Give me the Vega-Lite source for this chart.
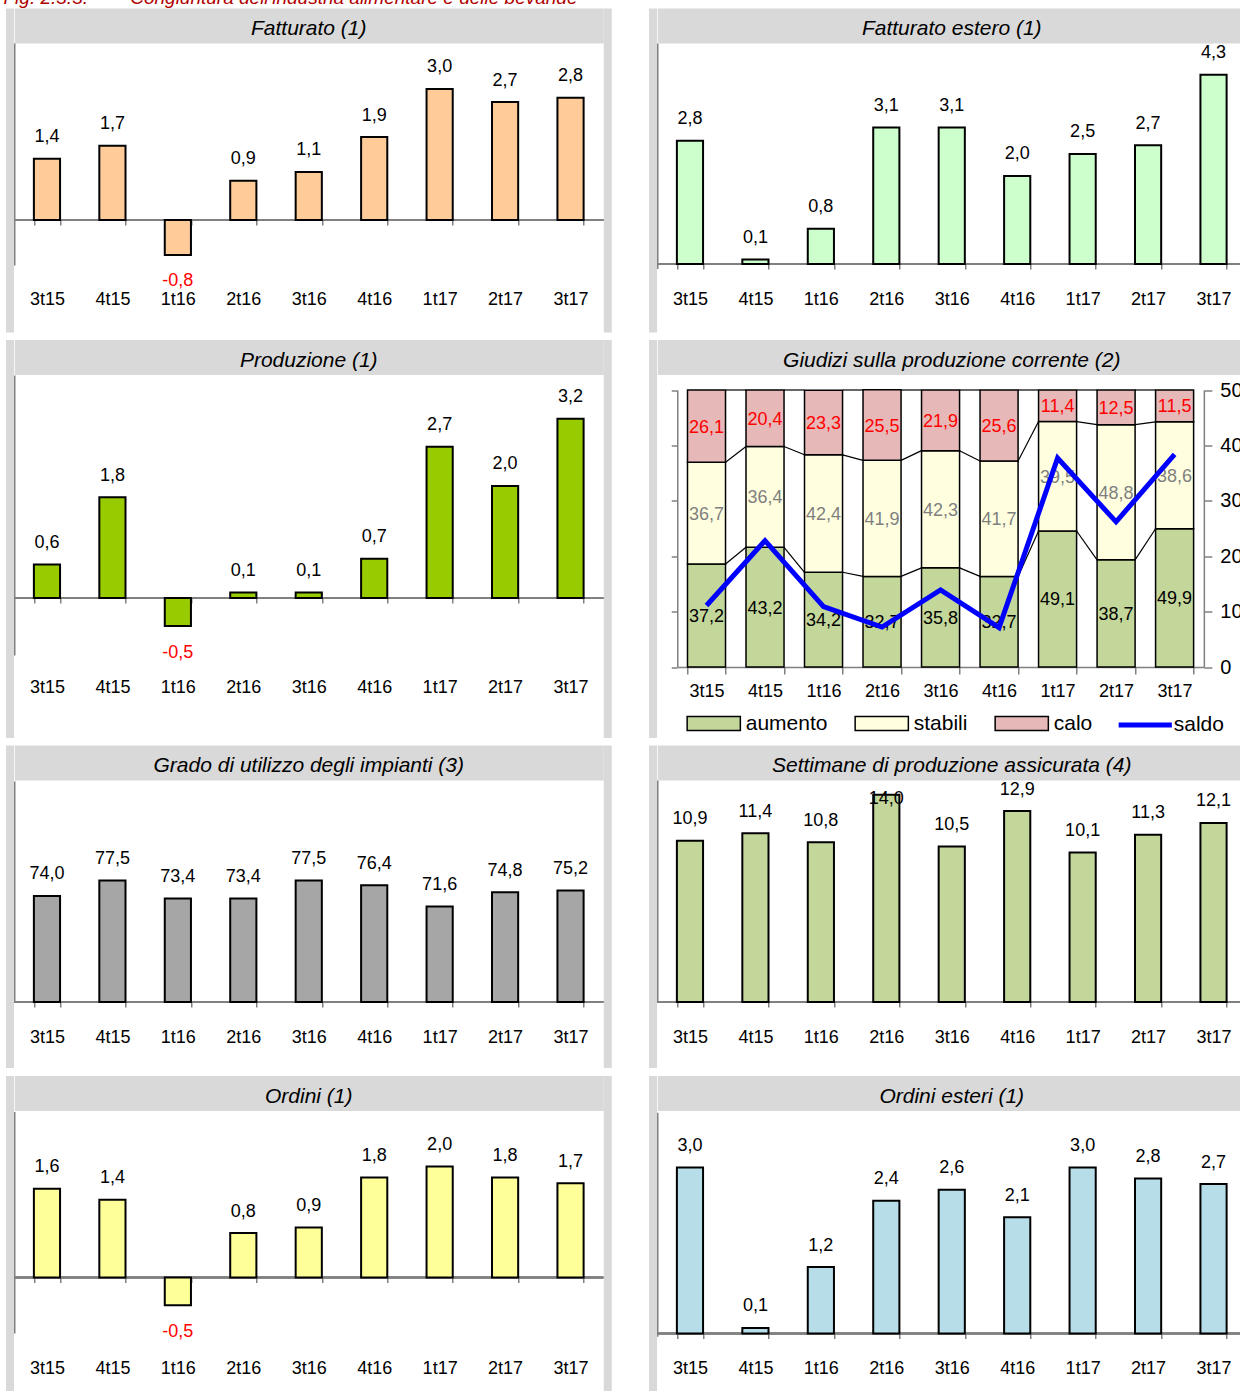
{
"$schema": "https://vega.github.io/schema/vega-lite/v6.json",
"background": "white",
"padding": {"left": 3.25, "top": -11, "right": 0, "bottom": 0},
"title": {"text": "Fig. 2.3.3.\u00a0\u00a0\u00a0\u00a0\u00a0\u00a0\u00a0\u00a0Congiuntura dell'industria alimentare e delle bevande", "anchor": "start", "frame": "bounds", "offset": 0, "dx": -6, "fontSize": 19, "color": "#b00000"},
"spacing": 7.5,
"resolve": {"legend": {"fill": "independent", "stroke": "independent"}},
"vconcat": [
{"spacing": 45, "hconcat": [
{"width": 589, "height": 324,
 "title": {"text": "Fatturato (1)"},
 "data": {"values": [{"q":"3t15","v":1.4},{"q":"4t15","v":1.7},{"q":"1t16","v":-0.8},{"q":"2t16","v":0.9},{"q":"3t16","v":1.1},{"q":"4t16","v":1.9},{"q":"1t17","v":3.0},{"q":"2t17","v":2.7},{"q":"3t17","v":2.8}]},
 "resolve": {"scale": {"y": "independent"}, "axis": {"x": "independent", "y": "independent"}},
 "layer": [
  {"mark": {"type": "rule", "color": "#808080", "strokeWidth": 1.5},
   "encoding": {"y": {"datum": 0, "type": "quantitative", "scale": {"domain": [-1.03, 4.05], "range": [257, 35.1], "nice": false, "zero": false}, "axis": {"orient": "left", "domainColor": "#808080", "domainWidth": 1.5, "ticks": false, "labels": false, "title": null}}}},
  {"mark": {"type": "bar", "fill": "#ffcc99", "stroke": "black", "strokeWidth": 2},
   "encoding": {
    "x": {"field": "q", "type": "nominal", "scale": {"type": "band", "domain": ["3t15","4t15","1t16","2t16","3t16","4t16","1t17","2t17","3t17"], "paddingInner": 0.6, "paddingOuter": 0.3}, "axis": {"orient": "bottom", "offset": -112, "domain": false, "tickBand": "extent", "tickSize": 5, "tickColor": "#808080", "tickWidth": 1.5, "labelPadding": 79.5, "labelBaseline": "alphabetic", "labelAngle": 0, "title": null}},
    "y": {"field": "v", "type": "quantitative", "scale": {"domain": [-2.5647, 4.8546], "nice": false, "zero": false}, "axis": {"orient": "left", "offset": 4.75, "domainColor": "#d9d9d9", "domainWidth": 8, "ticks": false, "labels": false, "title": null}},
    "y2": {"datum": 0}}},
  {"transform": [{"filter": "datum.v >= 0"}],
   "mark": {"type": "text", "baseline": "alphabetic", "dy": -16.5},
   "encoding": {
    "x": {"field": "q", "type": "nominal", "axis": {"orient": "top", "offset": -17.5, "domainColor": "#d9d9d9", "domainWidth": 35, "ticks": false, "labels": false, "title": null}},
    "y": {"field": "v", "type": "quantitative", "scale": {"domain": [-2.5647, 4.8546], "nice": false, "zero": false}, "axis": {"orient": "right", "offset": 4, "domainColor": "#d9d9d9", "domainWidth": 8, "ticks": false, "labels": false, "title": null}},
    "text": {"field": "v", "type": "quantitative", "format": ".1f"}}},
  {"transform": [{"filter": "datum.v < 0"}],
   "mark": {"type": "text", "baseline": "alphabetic", "dy": 31.5, "color": "#ff0000"},
   "encoding": {
    "x": {"field": "q", "type": "nominal", "axis": null},
    "y": {"field": "v", "type": "quantitative", "scale": {"domain": [-2.5647, 4.8546], "nice": false, "zero": false}, "axis": null},
    "text": {"field": "v", "type": "quantitative", "format": ".1f"}}}
 ]},
{"width": 589, "height": 324,
 "title": {"text": "Fatturato estero (1)"},
 "data": {"values": [{"q":"3t15","v":2.8},{"q":"4t15","v":0.1},{"q":"1t16","v":0.8},{"q":"2t16","v":3.1},{"q":"3t16","v":3.1},{"q":"4t16","v":2.0},{"q":"1t17","v":2.5},{"q":"2t17","v":2.7},{"q":"3t17","v":4.3}]},
 "resolve": {"scale": {"y": "independent"}, "axis": {"x": "independent", "y": "independent"}},
 "layer": [
  {"mark": {"type": "rule", "color": "#808080", "strokeWidth": 1.5},
   "encoding": {"y": {"datum": 0, "type": "quantitative", "scale": {"domain": [-0.1, 5.02], "range": [260.4, 35.1], "nice": false, "zero": false}, "axis": {"orient": "left", "domainColor": "#808080", "domainWidth": 1.5, "ticks": false, "labels": false, "title": null}}}},
  {"mark": {"type": "bar", "fill": "#ccffcc", "stroke": "black", "strokeWidth": 2},
   "encoding": {
    "x": {"field": "q", "type": "nominal", "scale": {"type": "band", "domain": ["3t15","4t15","1t16","2t16","3t16","4t16","1t17","2t17","3t17"], "paddingInner": 0.6, "paddingOuter": 0.3}, "axis": {"orient": "bottom", "offset": -68, "domain": false, "tickBand": "extent", "tickSize": 5, "tickColor": "#808080", "tickWidth": 1.5, "labelPadding": 35.5, "labelBaseline": "alphabetic", "labelAngle": 0, "title": null}},
    "y": {"field": "v", "type": "quantitative", "scale": {"domain": [-1.5455, 5.8182], "nice": false, "zero": false}, "axis": {"orient": "left", "offset": 4.75, "domainColor": "#d9d9d9", "domainWidth": 8, "ticks": false, "labels": false, "title": null}},
    "y2": {"datum": 0}}},
  {"mark": {"type": "text", "baseline": "alphabetic", "dy": -16.5},
   "encoding": {
    "x": {"field": "q", "type": "nominal", "axis": {"orient": "top", "offset": -17.5, "domainColor": "#d9d9d9", "domainWidth": 35, "ticks": false, "labels": false, "title": null}},
    "y": {"field": "v", "type": "quantitative", "scale": {"domain": [-1.5455, 5.8182], "nice": false, "zero": false}, "axis": null},
    "text": {"field": "v", "type": "quantitative", "format": ".1f"}}}
 ]}
]},
{"spacing": 45, "resolve": {"legend": {"fill": "independent", "stroke": "independent"}}, "hconcat": [
{"width": 589, "height": 398,
 "title": {"text": "Produzione (1)"},
 "data": {"values": [{"q":"3t15","v":0.6},{"q":"4t15","v":1.8},{"q":"1t16","v":-0.5},{"q":"2t16","v":0.1},{"q":"3t16","v":0.1},{"q":"4t16","v":0.7},{"q":"1t17","v":2.7},{"q":"2t17","v":2.0},{"q":"3t17","v":3.2}]},
 "resolve": {"scale": {"y": "independent"}, "axis": {"x": "independent", "y": "independent"}},
 "layer": [
  {"mark": {"type": "rule", "color": "#808080", "strokeWidth": 1.5},
   "encoding": {"y": {"datum": 0, "type": "quantitative", "scale": {"domain": [-1.02, 3.98], "range": [315.6, 35.6], "nice": false, "zero": false}, "axis": {"orient": "left", "domainColor": "#808080", "domainWidth": 1.5, "ticks": false, "labels": false, "title": null}}}},
  {"mark": {"type": "bar", "fill": "#99cc00", "stroke": "black", "strokeWidth": 2},
   "encoding": {
    "x": {"field": "q", "type": "nominal", "scale": {"type": "band", "domain": ["3t15","4t15","1t16","2t16","3t16","4t16","1t17","2t17","3t17"], "paddingInner": 0.6, "paddingOuter": 0.3}, "axis": {"orient": "bottom", "offset": -139.5, "domain": false, "tickBand": "extent", "tickSize": 5, "tickColor": "#808080", "tickWidth": 1.5, "labelPadding": 89.5, "labelBaseline": "alphabetic", "labelAngle": 0, "title": null}},
    "y": {"field": "v", "type": "quantitative", "scale": {"domain": [-2.491, 4.616], "nice": false, "zero": false}, "axis": {"orient": "left", "offset": 4.75, "domainColor": "#d9d9d9", "domainWidth": 8, "ticks": false, "labels": false, "title": null}},
    "y2": {"datum": 0}}},
  {"transform": [{"filter": "datum.v >= 0"}],
   "mark": {"type": "text", "baseline": "alphabetic", "dy": -16.5},
   "encoding": {
    "x": {"field": "q", "type": "nominal", "axis": {"orient": "top", "offset": -17.5, "domainColor": "#d9d9d9", "domainWidth": 35, "ticks": false, "labels": false, "title": null}},
    "y": {"field": "v", "type": "quantitative", "scale": {"domain": [-2.491, 4.616], "nice": false, "zero": false}, "axis": {"orient": "right", "offset": 4, "domainColor": "#d9d9d9", "domainWidth": 8, "ticks": false, "labels": false, "title": null}},
    "text": {"field": "v", "type": "quantitative", "format": ".1f"}}},
  {"transform": [{"filter": "datum.v < 0"}],
   "mark": {"type": "text", "baseline": "alphabetic", "dy": 31.5, "color": "#ff0000"},
   "encoding": {
    "x": {"field": "q", "type": "nominal", "axis": null},
    "y": {"field": "v", "type": "quantitative", "scale": {"domain": [-2.491, 4.616], "nice": false, "zero": false}, "axis": null},
    "text": {"field": "v", "type": "quantitative", "format": ".1f"}}}
 ]},
{"width": 589, "height": 398,
 "title": {"text": "Giudizi sulla produzione corrente (2)"},
 "data": {"values": [
  {"q":"3t15","s":"aumento","k":1,"v":37.2},{"q":"3t15","s":"stabili","k":2,"v":36.7},{"q":"3t15","s":"calo","k":3,"v":26.1},
  {"q":"4t15","s":"aumento","k":1,"v":43.2},{"q":"4t15","s":"stabili","k":2,"v":36.4},{"q":"4t15","s":"calo","k":3,"v":20.4},
  {"q":"1t16","s":"aumento","k":1,"v":34.2},{"q":"1t16","s":"stabili","k":2,"v":42.4},{"q":"1t16","s":"calo","k":3,"v":23.3},
  {"q":"2t16","s":"aumento","k":1,"v":32.7},{"q":"2t16","s":"stabili","k":2,"v":41.9},{"q":"2t16","s":"calo","k":3,"v":25.5},
  {"q":"3t16","s":"aumento","k":1,"v":35.8},{"q":"3t16","s":"stabili","k":2,"v":42.3},{"q":"3t16","s":"calo","k":3,"v":21.9},
  {"q":"4t16","s":"aumento","k":1,"v":32.7},{"q":"4t16","s":"stabili","k":2,"v":41.7},{"q":"4t16","s":"calo","k":3,"v":25.6},
  {"q":"1t17","s":"aumento","k":1,"v":49.1},{"q":"1t17","s":"stabili","k":2,"v":39.5},{"q":"1t17","s":"calo","k":3,"v":11.4},
  {"q":"2t17","s":"aumento","k":1,"v":38.7},{"q":"2t17","s":"stabili","k":2,"v":48.8},{"q":"2t17","s":"calo","k":3,"v":12.5},
  {"q":"3t17","s":"aumento","k":1,"v":49.9},{"q":"3t17","s":"stabili","k":2,"v":38.6},{"q":"3t17","s":"calo","k":3,"v":11.5}]},
 "resolve": {"scale": {"x": "independent", "y": "independent"}, "axis": {"x": "independent", "y": "independent"}, "legend": {"fill": "independent", "stroke": "independent"}},
 "layer": [
  {"mark": {"type": "text", "text": ""},
   "encoding": {
    "x": {"datum": "f", "type": "nominal", "axis": {"orient": "top", "offset": -17.5, "domainColor": "#d9d9d9", "domainWidth": 35, "ticks": false, "labels": false, "title": null}},
    "y": {"datum": 0.5, "type": "quantitative", "scale": {"domain": [0, 1]}, "axis": {"orient": "left", "offset": 4.75, "domainColor": "#d9d9d9", "domainWidth": 8, "ticks": false, "labels": false, "title": null}}}},
  {"data": {"values": [
    {"q":"3t15","qn":"4t15","a":37.2,"b":43.2},{"q":"4t15","qn":"1t16","a":43.2,"b":34.2},{"q":"1t16","qn":"2t16","a":34.2,"b":32.7},{"q":"2t16","qn":"3t16","a":32.7,"b":35.8},
    {"q":"3t16","qn":"4t16","a":35.8,"b":32.7},{"q":"4t16","qn":"1t17","a":32.7,"b":49.1},{"q":"1t17","qn":"2t17","a":49.1,"b":38.7},{"q":"2t17","qn":"3t17","a":38.7,"b":49.9},
    {"q":"3t15","qn":"4t15","a":73.9,"b":79.6},{"q":"4t15","qn":"1t16","a":79.6,"b":76.6},{"q":"1t16","qn":"2t16","a":76.6,"b":74.6},{"q":"2t16","qn":"3t16","a":74.6,"b":78.1},
    {"q":"3t16","qn":"4t16","a":78.1,"b":74.4},{"q":"4t16","qn":"1t17","a":74.4,"b":88.6},{"q":"1t17","qn":"2t17","a":88.6,"b":87.5},{"q":"2t17","qn":"3t17","a":87.5,"b":88.5},
    {"q":"3t15","qn":"4t15","a":100,"b":100},{"q":"4t15","qn":"1t16","a":100,"b":100},{"q":"1t16","qn":"2t16","a":100,"b":100},{"q":"2t16","qn":"3t16","a":100,"b":100},
    {"q":"3t16","qn":"4t16","a":100,"b":100},{"q":"4t16","qn":"1t17","a":100,"b":100},{"q":"1t17","qn":"2t17","a":100,"b":100},{"q":"2t17","qn":"3t17","a":100,"b":100}]},
   "mark": {"type": "rule", "color": "black", "strokeWidth": 1.2},
   "encoding": {
    "x": {"field": "q", "type": "nominal", "bandPosition": 1, "scale": {"type": "band", "domain": ["3t15","4t15","1t16","2t16","3t16","4t16","1t17","2t17","3t17"], "range": [20, 546.6], "paddingInner": 0.35, "paddingOuter": 0.175}, "axis": null},
    "x2": {"field": "qn", "bandPosition": 0},
    "y": {"field": "a", "type": "quantitative", "scale": {"domain": [0, 100], "range": [327.5, 50.5], "nice": false, "zero": false}, "axis": null},
    "y2": {"field": "b"}}},
  {"mark": {"type": "bar", "stroke": "black", "strokeWidth": 1.5},
   "encoding": {
    "x": {"field": "q", "type": "nominal", "scale": {"type": "band", "domain": ["3t15","4t15","1t16","2t16","3t16","4t16","1t17","2t17","3t17"], "range": [20, 546.6], "paddingInner": 0.35, "paddingOuter": 0.175}, "axis": {"orient": "bottom", "offset": -70.5, "domainColor": "#808080", "domainWidth": 1.5, "tickBand": "extent", "tickSize": 7, "tickColor": "#808080", "tickWidth": 1.5, "labelPadding": 22.5, "labelBaseline": "alphabetic", "labelAngle": 0, "title": null}},
    "y": {"field": "v", "type": "quantitative", "stack": "zero", "scale": {"domain": [0, 100], "range": [327.5, 50.5], "nice": false, "zero": false}, "axis": {"orient": "left", "offset": -20, "values": [0, 20, 40, 60, 80, 100], "domainColor": "#808080", "domainWidth": 1.5, "tickSize": 6, "tickColor": "#808080", "tickWidth": 1.5, "labels": false, "title": null}},
    "fill": {"field": "s", "type": "nominal", "scale": {"domain": ["aumento", "stabili", "calo"], "range": ["#c4d79b", "#ffffe0", "#e6b8b7"]},
      "legend": {"orient": "none", "legendX": 41.5, "legendY": 369, "direction": "horizontal", "columns": 3, "title": null, "padding": 0, "symbolType": "M-1.9,-0.5H1.9V0.5H-1.9Z", "symbolSize": 784, "symbolStrokeColor": "black", "symbolStrokeWidth": 1.5, "symbolOpacity": 1, "labelOffset": 17, "columnPadding": 24, "labelFont": "Liberation Sans", "labelFontSize": 21, "labelColor": "black"}},
    "order": {"field": "k", "type": "quantitative"}}},
  {"mark": {"type": "text", "baseline": "alphabetic", "dy": 6.5},
   "encoding": {
    "x": {"field": "q", "type": "nominal", "scale": {"type": "band", "domain": ["3t15","4t15","1t16","2t16","3t16","4t16","1t17","2t17","3t17"], "range": [20, 546.6], "paddingInner": 0.35, "paddingOuter": 0.175}, "axis": null},
    "y": {"field": "v", "type": "quantitative", "stack": "zero", "bandPosition": 0.5, "scale": {"domain": [0, 100], "range": [327.5, 50.5], "nice": false, "zero": false}, "axis": null},
    "color": {"field": "s", "type": "nominal", "scale": {"domain": ["aumento", "stabili", "calo"], "range": ["#000000", "#7f7f7f", "#ff0000"]}, "legend": null},
    "order": {"field": "k", "type": "quantitative"},
    "text": {"field": "v", "type": "quantitative", "format": ".1f"}}},
  {"data": {"values": [{"q":"3t15","s":"saldo","v":11.1},{"q":"4t15","s":"saldo","v":22.8},{"q":"1t16","s":"saldo","v":10.9},{"q":"2t16","s":"saldo","v":7.2},{"q":"3t16","s":"saldo","v":13.9},{"q":"4t16","s":"saldo","v":7.1},{"q":"1t17","s":"saldo","v":37.7},{"q":"2t17","s":"saldo","v":26.2},{"q":"3t17","s":"saldo","v":38.4}]},
   "mark": {"type": "line", "strokeWidth": 5},
   "encoding": {
    "x": {"field": "q", "type": "nominal", "sort": null, "scale": {"type": "band", "domain": ["3t15","4t15","1t16","2t16","3t16","4t16","1t17","2t17","3t17"], "range": [20, 546.6], "paddingInner": 0.35, "paddingOuter": 0.175}, "axis": null},
    "y": {"field": "v", "type": "quantitative", "scale": {"domain": [0, 50], "range": [327.5, 50.5], "nice": false, "zero": false}, "axis": {"orient": "right", "offset": -42.4, "values": [0, 10, 20, 30, 40, 50], "domainColor": "#808080", "domainWidth": 1.5, "tickSize": 8, "tickColor": "#808080", "tickWidth": 1.5, "labelPadding": 8, "labelFont": "Liberation Sans", "labelFontSize": 20, "labelColor": "black", "title": null}},
    "stroke": {"field": "s", "type": "nominal", "scale": {"domain": ["saldo"], "range": ["#0000ff"]},
      "legend": {"orient": "none", "legendX": 471.5, "legendY": 369, "title": null, "padding": 0, "symbolType": "M-1.9,0H1.9", "symbolSize": 784, "symbolStrokeWidth": 5, "labelOffset": 12, "labelFont": "Liberation Sans", "labelFontSize": 21, "labelColor": "black"}}}}
 ]}
]},
{"spacing": 45, "hconcat": [
{"width": 589, "height": 322.5,
 "title": {"text": "Grado di utilizzo degli impianti (3)"},
 "data": {"values": [{"q":"3t15","v":74.0},{"q":"4t15","v":77.5},{"q":"1t16","v":73.4},{"q":"2t16","v":73.4},{"q":"3t16","v":77.5},{"q":"4t16","v":76.4},{"q":"1t17","v":71.6},{"q":"2t17","v":74.8},{"q":"3t17","v":75.2}]},
 "resolve": {"scale": {"y": "independent"}, "axis": {"x": "independent", "y": "independent"}},
 "layer": [
  {"mark": {"type": "rule", "color": "#808080", "strokeWidth": 1.5},
   "encoding": {"y": {"datum": 50, "type": "quantitative", "scale": {"domain": [50, 100], "range": [257, 36], "nice": false, "zero": false}, "axis": {"orient": "left", "domainColor": "#808080", "domainWidth": 1.5, "ticks": false, "labels": false, "title": null}}}},
  {"mark": {"type": "bar", "fill": "#a6a6a6", "stroke": "black", "strokeWidth": 2},
   "encoding": {
    "x": {"field": "q", "type": "nominal", "scale": {"type": "band", "domain": ["3t15","4t15","1t16","2t16","3t16","4t16","1t17","2t17","3t17"], "paddingInner": 0.6, "paddingOuter": 0.3}, "axis": {"orient": "bottom", "offset": -65.5, "domain": false, "tickBand": "extent", "tickSize": 5, "tickColor": "#808080", "tickWidth": 1.5, "labelPadding": 35.5, "labelBaseline": "alphabetic", "labelAngle": 0, "title": null}},
    "y": {"field": "v", "type": "quantitative", "scale": {"domain": [35.18, 108.14], "nice": false, "zero": false}, "axis": {"orient": "left", "offset": 4.75, "domainColor": "#d9d9d9", "domainWidth": 8, "ticks": false, "labels": false, "title": null}},
    "y2": {"datum": 50}}},
  {"mark": {"type": "text", "baseline": "alphabetic", "dy": -16.5},
   "encoding": {
    "x": {"field": "q", "type": "nominal", "axis": {"orient": "top", "offset": -17.5, "domainColor": "#d9d9d9", "domainWidth": 35, "ticks": false, "labels": false, "title": null}},
    "y": {"field": "v", "type": "quantitative", "scale": {"domain": [35.18, 108.14], "nice": false, "zero": false}, "axis": {"orient": "right", "offset": 4, "domainColor": "#d9d9d9", "domainWidth": 8, "ticks": false, "labels": false, "title": null}},
    "text": {"field": "v", "type": "quantitative", "format": ".1f"}}}
 ]},
{"width": 589, "height": 322.5,
 "title": {"text": "Settimane di produzione assicurata (4)"},
 "data": {"values": [{"q":"3t15","v":10.9},{"q":"4t15","v":11.4},{"q":"1t16","v":10.8},{"q":"2t16","v":14.0},{"q":"3t16","v":10.5},{"q":"4t16","v":12.9},{"q":"1t17","v":10.1},{"q":"2t17","v":11.3},{"q":"3t17","v":12.1}]},
 "resolve": {"scale": {"y": "independent"}, "axis": {"x": "independent", "y": "independent"}},
 "layer": [
  {"mark": {"type": "rule", "color": "#808080", "strokeWidth": 1.5},
   "encoding": {"y": {"datum": 0, "type": "quantitative", "scale": {"domain": [0, 15], "range": [257, 35], "nice": false, "zero": false}, "axis": {"orient": "left", "domainColor": "#808080", "domainWidth": 1.5, "ticks": false, "labels": false, "title": null}}}},
  {"mark": {"type": "bar", "fill": "#c4d79b", "stroke": "black", "strokeWidth": 2},
   "encoding": {
    "x": {"field": "q", "type": "nominal", "scale": {"type": "band", "domain": ["3t15","4t15","1t16","2t16","3t16","4t16","1t17","2t17","3t17"], "paddingInner": 0.6, "paddingOuter": 0.3}, "axis": {"orient": "bottom", "offset": -65.5, "domain": false, "tickBand": "extent", "tickSize": 5, "tickColor": "#808080", "tickWidth": 1.5, "labelPadding": 35.5, "labelBaseline": "alphabetic", "labelAngle": 0, "title": null}},
    "y": {"field": "v", "type": "quantitative", "scale": {"domain": [-4.426, 17.365], "nice": false, "zero": false}, "axis": {"orient": "left", "offset": 4.75, "domainColor": "#d9d9d9", "domainWidth": 8, "ticks": false, "labels": false, "title": null}},
    "y2": {"datum": 0}}},
  {"transform": [{"filter": "datum.v < 14"}],
   "mark": {"type": "text", "baseline": "alphabetic", "dy": -16.5},
   "encoding": {
    "x": {"field": "q", "type": "nominal", "axis": {"orient": "top", "offset": -17.5, "domainColor": "#d9d9d9", "domainWidth": 35, "ticks": false, "labels": false, "title": null}},
    "y": {"field": "v", "type": "quantitative", "scale": {"domain": [-4.426, 17.365], "nice": false, "zero": false}, "axis": null},
    "text": {"field": "v", "type": "quantitative", "format": ".1f"}}},
  {"transform": [{"filter": "datum.v >= 14"}],
   "mark": {"type": "text", "baseline": "alphabetic", "dy": 23.5},
   "encoding": {
    "x": {"field": "q", "type": "nominal", "axis": null},
    "y": {"datum": 15, "type": "quantitative", "scale": {"domain": [-4.426, 17.365], "nice": false, "zero": false}, "axis": null},
    "text": {"field": "v", "type": "quantitative", "format": ".1f"}}}
 ]}
]},
{"spacing": 45, "hconcat": [
{"width": 589, "height": 316,
 "title": {"text": "Ordini (1)"},
 "data": {"values": [{"q":"3t15","v":1.6},{"q":"4t15","v":1.4},{"q":"1t16","v":-0.5},{"q":"2t16","v":0.8},{"q":"3t16","v":0.9},{"q":"4t16","v":1.8},{"q":"1t17","v":2.0},{"q":"2t17","v":1.8},{"q":"3t17","v":1.7}]},
 "resolve": {"scale": {"y": "independent"}, "axis": {"x": "independent", "y": "independent"}},
 "layer": [
  {"mark": {"type": "rule", "color": "#808080", "strokeWidth": 1.5},
   "encoding": {"y": {"datum": 0, "type": "quantitative", "scale": {"domain": [-1.0, 2.99], "range": [257.5, 36.1], "nice": false, "zero": false}, "axis": {"orient": "left", "domainColor": "#808080", "domainWidth": 1.5, "ticks": false, "labels": false, "title": null}}}},
  {"mark": {"type": "bar", "fill": "#ffff99", "stroke": "black", "strokeWidth": 2},
   "encoding": {
    "x": {"field": "q", "type": "nominal", "scale": {"type": "band", "domain": ["3t15","4t15","1t16","2t16","3t16","4t16","1t17","2t17","3t17"], "paddingInner": 0.6, "paddingOuter": 0.3}, "axis": {"orient": "bottom", "offset": -114, "domain": false, "tickBand": "extent", "tickSize": 5, "tickColor": "#808080", "tickWidth": 1.5, "labelPadding": 90.5, "labelBaseline": "alphabetic", "labelAngle": 0, "title": null}},
    "y": {"field": "v", "type": "quantitative", "scale": {"domain": [-2.054, 3.64], "nice": false, "zero": false}, "axis": {"orient": "left", "offset": 4.75, "domainColor": "#d9d9d9", "domainWidth": 8, "ticks": false, "labels": false, "title": null}},
    "y2": {"datum": 0}}},
  {"transform": [{"filter": "datum.v >= 0"}],
   "mark": {"type": "text", "baseline": "alphabetic", "dy": -16.5},
   "encoding": {
    "x": {"field": "q", "type": "nominal", "axis": {"orient": "top", "offset": -17.5, "domainColor": "#d9d9d9", "domainWidth": 35, "ticks": false, "labels": false, "title": null}},
    "y": {"field": "v", "type": "quantitative", "scale": {"domain": [-2.054, 3.64], "nice": false, "zero": false}, "axis": {"orient": "right", "offset": 4, "domainColor": "#d9d9d9", "domainWidth": 8, "ticks": false, "labels": false, "title": null}},
    "text": {"field": "v", "type": "quantitative", "format": ".1f"}}},
  {"transform": [{"filter": "datum.v < 0"}],
   "mark": {"type": "text", "baseline": "alphabetic", "dy": 31.5, "color": "#ff0000"},
   "encoding": {
    "x": {"field": "q", "type": "nominal", "axis": null},
    "y": {"field": "v", "type": "quantitative", "scale": {"domain": [-2.054, 3.64], "nice": false, "zero": false}, "axis": null},
    "text": {"field": "v", "type": "quantitative", "format": ".1f"}}}
 ]},
{"width": 589, "height": 316,
 "title": {"text": "Ordini esteri (1)"},
 "data": {"values": [{"q":"3t15","v":3.0},{"q":"4t15","v":0.1},{"q":"1t16","v":1.2},{"q":"2t16","v":2.4},{"q":"3t16","v":2.6},{"q":"4t16","v":2.1},{"q":"1t17","v":3.0},{"q":"2t17","v":2.8},{"q":"3t17","v":2.7}]},
 "resolve": {"scale": {"y": "independent"}, "axis": {"x": "independent", "y": "independent"}},
 "layer": [
  {"mark": {"type": "rule", "color": "#808080", "strokeWidth": 1.5},
   "encoding": {"y": {"datum": 0, "type": "quantitative", "scale": {"domain": [-0.05, 4.0], "range": [260.8, 36.7], "nice": false, "zero": false}, "axis": {"orient": "left", "domainColor": "#808080", "domainWidth": 1.5, "ticks": false, "labels": false, "title": null}}}},
  {"mark": {"type": "bar", "fill": "#b7dee8", "stroke": "black", "strokeWidth": 2},
   "encoding": {
    "x": {"field": "q", "type": "nominal", "scale": {"type": "band", "domain": ["3t15","4t15","1t16","2t16","3t16","4t16","1t17","2t17","3t17"], "paddingInner": 0.6, "paddingOuter": 0.3}, "axis": {"orient": "bottom", "offset": -58, "domain": false, "tickBand": "extent", "tickSize": 5, "tickColor": "#808080", "tickWidth": 1.5, "labelPadding": 34.5, "labelBaseline": "alphabetic", "labelAngle": 0, "title": null}},
    "y": {"field": "v", "type": "quantitative", "scale": {"domain": [-1.048, 4.663], "nice": false, "zero": false}, "axis": {"orient": "left", "offset": 4.75, "domainColor": "#d9d9d9", "domainWidth": 8, "ticks": false, "labels": false, "title": null}},
    "y2": {"datum": 0}}},
  {"mark": {"type": "text", "baseline": "alphabetic", "dy": -16.5},
   "encoding": {
    "x": {"field": "q", "type": "nominal", "axis": {"orient": "top", "offset": -17.5, "domainColor": "#d9d9d9", "domainWidth": 35, "ticks": false, "labels": false, "title": null}},
    "y": {"field": "v", "type": "quantitative", "scale": {"domain": [-1.048, 4.663], "nice": false, "zero": false}, "axis": null},
    "text": {"field": "v", "type": "quantitative", "format": ".1f"}}}
 ]}
]}
],
"config": {
 "view": {"stroke": null, "fill": "white"},
 "locale": {"number": {"decimal": ",", "thousands": ".", "grouping": [3], "currency": ["", " €"], "minus": "-"}},
 "title": {"font": "Liberation Sans", "fontStyle": "italic", "fontWeight": "normal", "fontSize": 21, "color": "black", "offset": -31, "frame": "group"},
 "axis": {"labelFont": "Liberation Sans", "labelFontSize": 18, "labelColor": "black", "grid": false},
 "text": {"font": "Liberation Sans", "fontSize": 18}
}
}
